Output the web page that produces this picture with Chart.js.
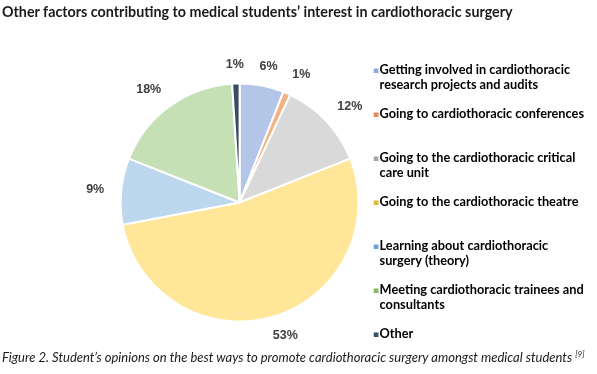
<!DOCTYPE html>
<html>
<head>
<meta charset="utf-8">
<script src="https://cdn.jsdelivr.net/npm/chart.js@4.4.1/dist/chart.umd.min.js"></script>
<style>
  body { margin: 0; background: #fff; }
  #wrap { position: relative; width: 597px; height: 374px; overflow: hidden; }
  #chart { position: absolute; left: 0; top: 0; }
  .title { position: absolute; left: 2px; top: 3px; font: bold 14.3px Lato, sans-serif; color: #1a1a1a; white-space: nowrap; }
  .caption { position: absolute; left: 2px; top: 349px; font: italic 13px Lato, sans-serif; color: #1a1a1a; white-space: nowrap; }
  .caption sup { font-size: 8px; }
</style>
</head>
<body>
<div id="wrap">
  <canvas id="chart" width="597" height="374"></canvas>
  <div class="title">Other factors contributing to medical students’ interest in cardiothoracic surgery</div>
  <div class="caption">Figure 2. Student’s opinions on the best ways to promote cardiothoracic surgery amongst medical students <sup>[9]</sup></div>
</div>
<script>
// categories (legend text, split in lines like the original)
var categories = [
  ['Getting involved in cardiothoracic', 'research projects and audits'],
  ['Going to cardiothoracic conferences', ''],
  ['Going to the cardiothoracic critical', 'care unit'],
  ['Going to the cardiothoracic theatre', ''],
  ['Learning about cardiothoracic', 'surgery (theory)'],
  ['Meeting cardiothoracic trainees and', 'consultants'],
  'Other'
];
// percentages
var values = [6, 1, 12, 53, 9, 18, 1];
var sliceColors = ['#b4c6e7', '#f4b183', '#d9d9d9', '#ffe699', '#bdd7ee', '#c5e0b4', '#3b4a66'];
var markerColors = ['#8faadc', '#dd8a5b', '#a5a5a5', '#dcb839', '#6fa2d6', '#86b566', '#3b4a66'];

// small square legend marker, drawn close to the text
function markerImage(color) {
  var c = document.createElement('canvas');
  c.width = 12;
  c.height = 5;
  var g = c.getContext('2d');
  g.fillStyle = color;
  g.fillRect(7, 0.5, 4.5, 4.5);
  return c;
}

// percent labels outside the slices ("outside end" style)
var outsideLabels = {
  id: 'outsideLabels',
  afterDatasetsDraw: function(chart) {
    var ctx = chart.ctx;
    var meta = chart.getDatasetMeta(0);
    ctx.save();
    ctx.font = 'bold 12.5px "Liberation Sans", Arial, sans-serif';
    ctx.fillStyle = '#404040';
    ctx.textAlign = 'center';
    ctx.textBaseline = 'middle';
    meta.data.forEach(function(arc, i) {
      var p = arc.getProps(['x', 'y', 'startAngle', 'endAngle', 'outerRadius'], true);
      var mid = (p.startAngle + p.endAngle) / 2;
      var dx = Math.cos(mid), dy = Math.sin(mid);
      var txt = values[i] + '%';
      var w = ctx.measureText(txt).width;
      var d = p.outerRadius + 13 + 4 * dx * dx;
      var k = Math.max(-1, Math.min(1, dx * 2.5));
      ctx.fillText(txt, p.x + dx * d + k * w / 2, p.y + dy * d + dy * 6.5);
    });
    ctx.restore();
  }
};

var ctx = document.getElementById('chart');
var myChart = new Chart(ctx, {
  type: 'pie',
  data: {
    labels: categories,
    datasets: [{
      data: values,
      backgroundColor: sliceColors,
      borderColor: '#ffffff',
      borderWidth: 2
    }]
  },
  options: {
    responsive: false,
    animation: false,
    radius: 119,
    layout: { padding: { top: 50, bottom: 19, left: 121, right: 3 } },
    plugins: {
      tooltip: { enabled: false },
      legend: {
        position: 'right',
        align: 'start',
        labels: {
          usePointStyle: true,
          boxWidth: 1,
          boxHeight: 5,
          padding: 14,
          color: '#404040',
          font: { family: 'Lato', size: 12.75, weight: 'bold', lineHeight: '15px' },
          generateLabels: function(chart) {
            return categories.map(function(c, i) {
              return {
                text: c,
                fillStyle: markerColors[i],
                strokeStyle: markerColors[i],
                lineWidth: 0,
                pointStyle: markerImage(markerColors[i]),
                index: i
              };
            });
          }
        }
      }
    }
  },
  plugins: [outsideLabels]
});
</script>
</body>
</html>
